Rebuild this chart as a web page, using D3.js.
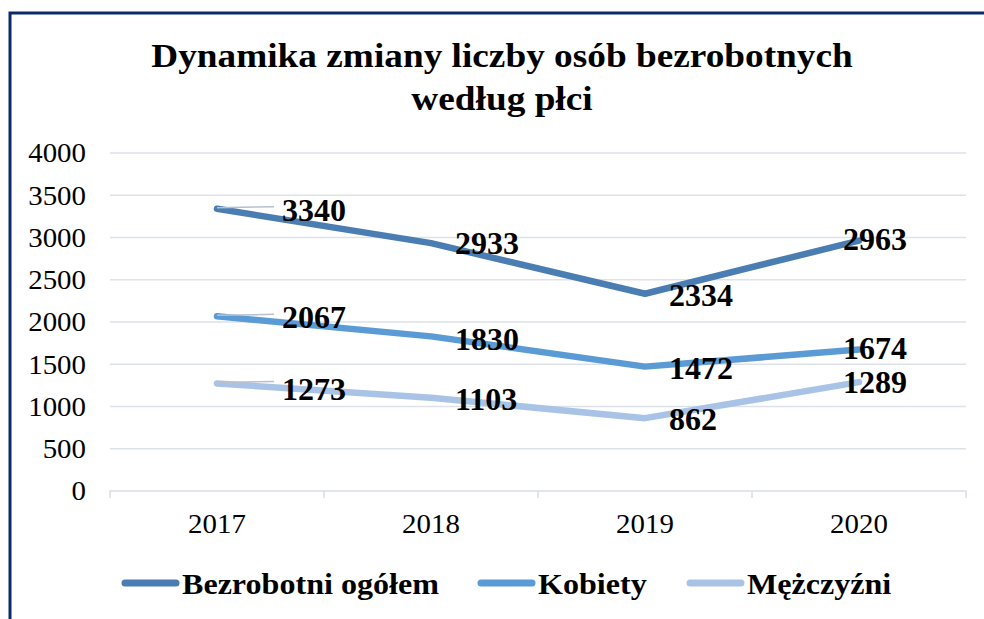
<!DOCTYPE html>
<html><head><meta charset="utf-8">
<script src="https://cdn.jsdelivr.net/npm/d3@7"></script>
<style>html,body{margin:0;padding:0;background:#fff;}svg{display:block;}</style>
</head><body>
<script>
const categories = ["2017", "2018", "2019", "2020"];
const seriesNames = ["Bezrobotni ogółem", "Kobiety", "Mężczyźni"];
const totalValues = [3340, 2933, 2334, 2963];
const womenValues = [2067, 1830, 1472, 1674];
const menValues = [1273, 1103, 862, 1289];
const yTicks = [0, 500, 1000, 1500, 2000, 2500, 3000, 3500, 4000];
const titleLines = ["Dynamika zmiany liczby osób bezrobotnych", "według płci"];

const colors = ["#4a7db2", "#5b9bd5", "#a8c3e5"];
const seriesValues = [totalValues, womenValues, menValues];
// label layout (pixels): horizontal offset per category, vertical nudge per series/category
const labelDx = [65, 24, 24, -16];
const labelDy = [[1, 0, 1, -2], [0, 2, 1, -2], [5, 1, 1, 0]];

const W = 984, H = 619;
const FONT = '"Liberation Serif", "Times New Roman", Times, serif';
const svg = d3.select("body").append("svg").attr("width", W).attr("height", H);
svg.append("rect").attr("width", W).attr("height", H).attr("fill", "#fff");
svg.append("rect").attr("x", 10).attr("y", 13).attr("width", 990).attr("height", 640)
  .attr("fill", "none").attr("stroke", "#0b2a6b").attr("stroke-width", 3);

function stext(parent, tx, ty, str, opts) {
  return parent.append("text")
    .attr("transform", `translate(${tx},${ty}) scale(${opts.sx || 1},1)`)
    .attr("text-anchor", opts.anchor || "start")
    .attr("dy", opts.dy || null)
    .style("font-family", FONT)
    .attr("font-weight", opts.bold ? "bold" : "normal")
    .attr("font-size", opts.size).attr("fill", "#000").text(str);
}

const tg = svg.append("g");
titleLines.forEach((t, i) => stext(tg, 502, 67 + i * 43, t, {anchor: "middle", bold: true, size: 33, sx: 1.13}));

const x = d3.scaleBand().domain(categories).range([110, 966]);
const y = d3.scaleLinear().domain([0, 4000]).range([491, 153]);

svg.append("g").selectAll("line").data(yTicks.filter(d => d > 0)).join("line")
  .attr("x1", 110).attr("x2", 966).attr("y1", d => y(d)).attr("y2", d => y(d))
  .attr("stroke", "#dde2ea").attr("stroke-width", 1.5);

const yg = svg.append("g");
yTicks.forEach(d => stext(yg, 86, y(d), d, {anchor: "end", dy: "0.35em", size: 27, sx: 1.07}));

const xAxis = d3.axisBottom(x).tickSize(0).tickFormat("");
const gx = svg.append("g").attr("transform", `translate(0,${y(0)})`).call(xAxis);
gx.select(".domain").attr("stroke", "#d9dee6").attr("stroke-width", 1.5).attr("d", `M110,7V0H966V7`);
const xl = svg.append("g");
const cx = c => x(c) + x.bandwidth() / 2;
categories.forEach(c => stext(xl, cx(c), 533, c, {anchor: "middle", size: 27, sx: 1.07}));
const bounds = categories.slice(1).map(c => x(c));
svg.append("g").selectAll("line").data(bounds).join("line")
  .attr("x1", d => d).attr("x2", d => d).attr("y1", y(0)).attr("y2", y(0) + 7)
  .attr("stroke", "#d9dee6").attr("stroke-width", 1.5);

const line = d3.line().x((d, i) => cx(categories[i])).y(d => y(d));
seriesValues.forEach((vals, s) => {
  svg.append("path").datum(vals).attr("d", line).attr("fill", "none")
    .attr("stroke", colors[s]).attr("stroke-width", 6.5)
    .attr("stroke-linejoin", "round").attr("stroke-linecap", "round");
});

seriesValues.forEach((vals) => {
  svg.append("line").attr("x1", cx(categories[0])).attr("y1", y(vals[0]) - 1)
    .attr("x2", cx(categories[0]) + labelDx[0] - 8).attr("y2", y(vals[0]) - 2)
    .attr("stroke", "#b8c0cc").attr("stroke-width", 1.5);
});

const lbl = svg.append("g");
seriesValues.forEach((vals, s) => {
  vals.forEach((d, i) => stext(lbl, cx(categories[i]) + labelDx[i], y(d) + labelDy[s][i], d, {dy: "0.35em", bold: true, size: 32}));
});

const legendX = [122, 478, 687];
const lg = svg.append("g");
seriesNames.forEach((n, i) => {
  lg.append("line").attr("x1", legendX[i] + 3).attr("x2", legendX[i] + 54).attr("y1", 583).attr("y2", 583)
    .attr("stroke", colors[i]).attr("stroke-width", 7).attr("stroke-linecap", "round");
  stext(lg, legendX[i] + 60, 583, n, {dy: "0.35em", bold: true, size: 30, sx: 1.07});
});
</script>
</body></html>
